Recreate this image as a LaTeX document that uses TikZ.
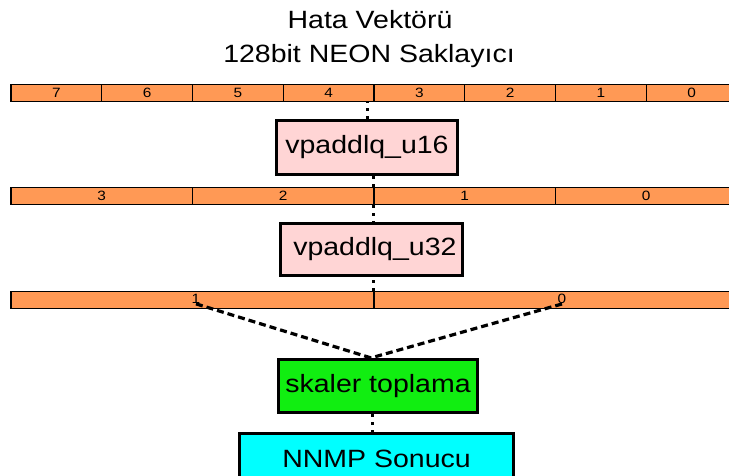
\documentclass[tikz,border=0pt]{standalone}
\usepackage{fontspec}
\setmainfont{Liberation Sans}[FakeStretch=1.14]
\usetikzlibrary{calc}
\definecolor{regorange}{HTML}{FF9955}
\definecolor{oppink}{HTML}{FFD5D5}
\definecolor{opgreen}{HTML}{11EE11}
\definecolor{rescyan}{HTML}{00FFFF}
\tikzset{
  cell/.style={draw=black, line width=1.3pt, fill=regorange, inner sep=0pt, minimum height=17pt, font=\fontsize{13.5}{13.5}\selectfont},
  widecell/.style={cell, line width=1.9pt},
  opbox/.style={draw=black, line width=3.2pt, inner sep=0pt, font=\fontsize{25}{25}\selectfont},
  titletext/.style={font=\fontsize{25}{25}\selectfont, anchor=base, inner sep=0pt},
  dotlink/.style={line width=3pt, dash pattern=on 3pt off 5pt},
  dashlink/.style={line width=3.2pt, dash pattern=on 7pt off 4pt},
  cellnum/.style={inner sep=0pt, font=\fontsize{13.5}{13.5}\selectfont}
}
\begin{document}
\begin{tikzpicture}[x=1pt,y=-1pt]
\clip (0,0) rectangle (729,476);
\fill[white] (0,0) rectangle (729,476);
% title
\node[titletext] (t1) at (370,29) {Hata Vektörü};
\node[titletext] (t2) at (369,63) {128bit NEON Saklayıcı};
% register of 8 lanes
\foreach \i in {0,...,7} {
  \pgfmathsetmacro{\cx}{11+90.75*(7-\i)+45.375}
  \node[cell, minimum width=90.75pt] (ra\i) at (\cx,93) {\i};
}
% register of 4 lanes
\foreach \i in {0,...,3} {
  \pgfmathsetmacro{\cx}{11+181.5*(3-\i)+90.75}
  \node[cell, minimum width=181.5pt] (rb\i) at (\cx,196) {\i};
}
% register of 2 lanes
\node[widecell, minimum width=363pt] (rc1) at (192.5,300) {};
\node[widecell, minimum width=363pt] (rc0) at (555.5,300) {};
\node[cellnum] (n1) at (196,299) {1};
\node[cellnum] (n0) at (562,299) {0};
% operation boxes
\node[opbox, fill=oppink, minimum width=181pt, minimum height=54pt] (u16) at (367,147.5) {vpaddlq\_u16};
\node[opbox, fill=oppink, minimum width=182pt, minimum height=52pt, text width=170pt, align=right] (u32) at (371.5,249.5) {vpaddlq\_u32};
\node[opbox, fill=opgreen, minimum width=199pt, minimum height=53pt] (sk) at (378,386) {skaler toplama};
\node[opbox, fill=rescyan, minimum width=274pt, minimum height=50pt] (res) at (376.5,458.5) {NNMP Sonucu};
% connectors
\draw[dotlink] (u16.north) -- (u16.north |- ra4.south);
\draw[dotlink] (rb1.north west) -- (rb1.north west |- u16.south);
\draw[dotlink] (rb1.south west) -- (rb1.south west |- u32.north);
\draw[dotlink] (rc0.north west) -- (rc0.north west |- u32.south);
\coordinate (meet) at ($(sk.north)+(-7,0)$);
\draw[dashlink] (n1.south) -- (meet);
\draw[dashlink] (n0.south) -- (meet);
\coordinate (mid) at ($(sk.south)+(-6,0)$);
\draw[dotlink] (mid) -- (mid |- res.north);
\end{tikzpicture}
\end{document}
